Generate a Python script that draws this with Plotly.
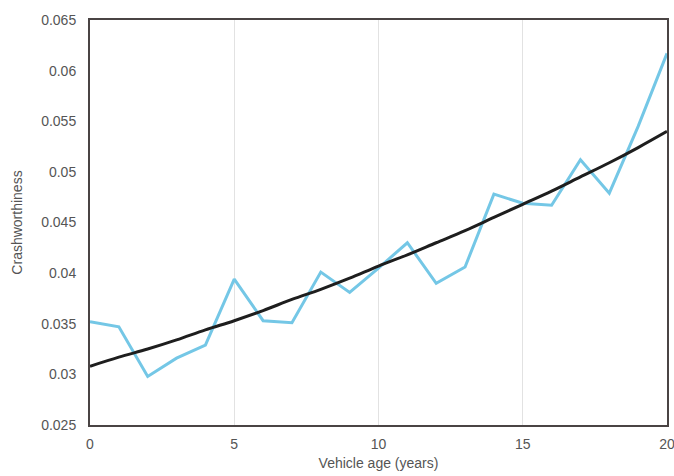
import plotly.graph_objects as go

ages = list(range(21))
observed = [0.0352, 0.0347, 0.0298, 0.0316, 0.0329, 0.0394, 0.0353, 0.0351,
            0.0401, 0.0381, 0.0405, 0.0430, 0.0390, 0.0406, 0.0478, 0.0469,
            0.0467, 0.0512, 0.0479, 0.0545, 0.0617]
trend = [0.0308, 0.0317, 0.0325, 0.0334, 0.0344, 0.0353, 0.0363, 0.0374,
         0.0384, 0.0395, 0.0407, 0.0418, 0.0430, 0.0442, 0.0455, 0.0468,
         0.0481, 0.0495, 0.0509, 0.0524, 0.0540]
x_ticks = [0, 5, 10, 15, 20]
y_ticks = [0.025, 0.03, 0.035, 0.04, 0.045, 0.05, 0.055, 0.06, 0.065]
y_tick_labels = ["0.025", "0.03", "0.035", "0.04", "0.045", "0.05", "0.055", "0.06", "0.065"]

fig = go.Figure()
fig.add_trace(go.Scatter(x=ages, y=observed, mode="lines",
                         line=dict(color="#74c7e6", width=3), showlegend=False))
fig.add_trace(go.Scatter(x=ages, y=trend, mode="lines",
                         line=dict(color="#1e1e1e", width=3, shape="spline"), showlegend=False))

font = dict(family="Liberation Sans, Arial, sans-serif", size=14, color="#555555")
fig.update_layout(
    width=674, height=476,
    margin=dict(l=90, r=7, t=20, b=51, autoexpand=False),
    paper_bgcolor="white", plot_bgcolor="white",
    font=font,
    xaxis=dict(range=[0, 20], tickvals=x_ticks, showgrid=True, gridcolor="#e2e2e2",
               gridwidth=1, zeroline=False, showline=True, linecolor="#4a4444",
               linewidth=2, mirror=True, ticks="outside", ticklen=5,
               tickcolor="rgba(0,0,0,0)", automargin=False, ticklabeloverflow="allow",
               title=dict(text="Vehicle age (years)", standoff=7, font=dict(size=14, color="#555555"))),
    yaxis=dict(range=[0.025, 0.065], tickvals=y_ticks, ticktext=y_tick_labels,
               showgrid=False, zeroline=False, showline=True, linecolor="#4a4444",
               linewidth=2, mirror=True, ticks="outside", ticklen=9,
               tickcolor="rgba(0,0,0,0)", automargin=False, ticklabeloverflow="allow",
               title=dict(text="Crashworthiness", standoff=15, font=dict(size=14, color="#555555"))),
)
post = (
    "document.body.style.margin='0';"
    "document.body.style.overflow='hidden';"
    "var gd=document.getElementById('{plot_id}');"
    "gd.style.width='674px';gd.style.height='476px';"
    "Plotly.relayout(gd,{width:674,height:476});"
)
fig.write_html("out.html", config={"displayModeBar": False}, post_script=post)
